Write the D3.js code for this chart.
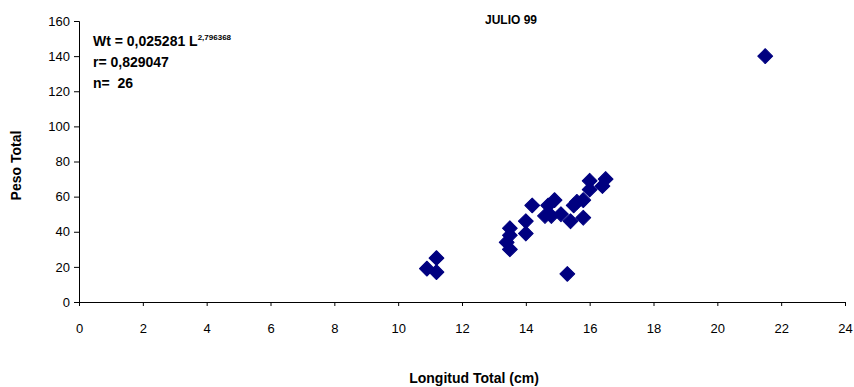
<!DOCTYPE html>
<html>
<head>
<meta charset="utf-8">
<script src="https://cdn.jsdelivr.net/npm/d3@7"></script>
<style>
  body { margin: 0; background: #fff; }
  svg { display: block; }
</style>
</head>
<body>
<div id="chart"></div>
<script>
// Longitud total (cm) vs peso total, julio 99
const longitud = [10.9, 11.2, 11.2, 13.5, 13.5, 13.4, 13.5, 14.0, 14.0, 14.2, 14.6, 14.7, 14.8,
                  14.9, 15.1, 15.3, 15.4, 15.5, 15.6, 15.8, 15.8, 16.0, 16.0, 16.4, 16.5, 21.5];
const peso = [19, 25, 17, 42, 38, 34, 30, 46, 39, 55, 49, 55, 49,
              58, 50, 16, 46, 55, 57, 58, 48, 69, 64, 66, 70, 140];
const xTicks = [0, 2, 4, 6, 8, 10, 12, 14, 16, 18, 20, 22, 24];
const yTicks = [0, 20, 40, 60, 80, 100, 120, 140, 160];

const title = "JULIO 99";
const eqText = "Wt = 0,025281 L";
const eqExp = "2,796368";
const rText = "r= 0,829047";
const nText = "n=  26";

const width = 854, height = 387;
const margin = { top: 21, right: 9, bottom: 85, left: 79 };
const font = "Liberation Sans, Arial, sans-serif";

const svg = d3.select("#chart").append("svg")
    .attr("width", width)
    .attr("height", height)
    .attr("font-family", font);

const x = d3.scaleLinear().domain([0, 24]).range([margin.left, width - margin.right]);
const y = d3.scaleLinear().domain([0, 160]).range([height - margin.bottom, margin.top]);

// axes
const xAxis = svg.append("g")
    .attr("transform", `translate(0,${y(0)})`)
    .call(d3.axisBottom(x).tickValues(xTicks).tickSize(4).tickPadding(18).tickFormat(d3.format("d")));
const yAxis = svg.append("g")
    .attr("transform", `translate(${x(0)},0)`)
    .call(d3.axisLeft(y).tickValues(yTicks).tickSize(5).tickPadding(4).tickFormat(d3.format("d")));

[xAxis, yAxis].forEach(ax => {
  ax.select(".domain").attr("stroke", "#000");
  ax.selectAll(".tick line").attr("stroke", "#000");
  ax.selectAll(".tick text").attr("fill", "#000").attr("font-size", 13)
    .attr("font-family", font);
});

// points
const data = longitud.map((d, i) => ({ x: d, y: peso[i] }));
const diamond = d3.symbol().type(d3.symbolSquare).size(110);
svg.append("g").selectAll("path.pt")
  .data(data)
  .join("path")
    .attr("class", "pt")
    .attr("d", diamond)
    .attr("transform", d => `translate(${x(d.x)},${y(d.y)}) rotate(45)`)
    .attr("fill", "#000080")
    .attr("stroke", "#000080")
    .attr("stroke-width", 1)
    .attr("stroke-linejoin", "round");

// title
svg.append("text")
    .attr("x", 511).attr("y", 24)
    .attr("text-anchor", "middle")
    .attr("font-weight", "bold").attr("font-size", 12)
    .text(title);

// equation block
const eq = svg.append("text")
    .attr("x", 93).attr("y", 46)
    .attr("font-weight", "bold").attr("font-size", 14);
eq.append("tspan").text(eqText);
eq.append("tspan").attr("dy", -6).attr("font-size", 8).text(eqExp);

svg.append("text")
    .attr("x", 93).attr("y", 67)
    .attr("font-weight", "bold").attr("font-size", 14)
    .text(rText);
svg.append("text")
    .attr("x", 93).attr("y", 88)
    .attr("font-weight", "bold").attr("font-size", 14)
    .style("white-space", "pre")
    .text(nText);

// axis titles
svg.append("text")
    .attr("transform", `translate(21,${(y(0) + y(160)) / 2 + 4}) rotate(-90)`)
    .attr("text-anchor", "middle")
    .attr("font-weight", "bold").attr("font-size", 14)
    .text("Peso Total");
svg.append("text")
    .attr("x", 474).attr("y", 383)
    .attr("text-anchor", "middle")
    .attr("font-weight", "bold").attr("font-size", 14)
    .text("Longitud Total (cm)");
</script>
</body>
</html>
